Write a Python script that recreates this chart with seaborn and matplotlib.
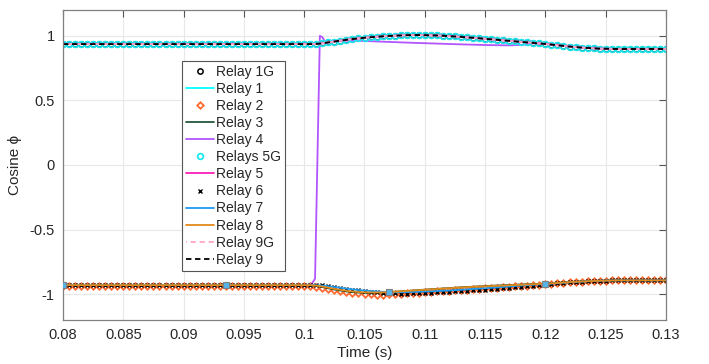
import numpy as np
import pandas as pd
import matplotlib
matplotlib.use("Agg")
import matplotlib.pyplot as plt
import seaborn as sns
from matplotlib.ticker import FuncFormatter

# ---------------- data ----------------
time = np.linspace(0.08, 0.13, 101)

upper_cos = [
    0.936, 0.936, 0.936, 0.936, 0.936, 0.936, 0.936, 0.936, 0.936, 0.936,
    0.936, 0.936, 0.936, 0.936, 0.936, 0.936, 0.936, 0.936, 0.936, 0.936,
    0.936, 0.936, 0.936, 0.936, 0.936, 0.936, 0.936, 0.936, 0.936, 0.936,
    0.936, 0.936, 0.936, 0.936, 0.936, 0.936, 0.936, 0.936, 0.936, 0.936,
    0.936, 0.936, 0.937, 0.942, 0.949, 0.956, 0.963, 0.969, 0.975, 0.980,
    0.985, 0.989, 0.993, 0.996, 0.999, 1.001, 1.003, 1.005, 1.006, 1.006,
    1.005, 1.004, 1.003, 1.001, 0.998, 0.995, 0.992, 0.988, 0.985, 0.981,
    0.977, 0.973, 0.969, 0.965, 0.961, 0.957, 0.953, 0.949, 0.945, 0.941,
    0.937, 0.932, 0.927, 0.922, 0.917, 0.913, 0.909, 0.906, 0.903, 0.901,
    0.900, 0.899, 0.898, 0.898, 0.898, 0.898, 0.898, 0.898, 0.898, 0.898,
    0.898,
]

relay2_cos = [
    -0.940, -0.940, -0.940, -0.940, -0.940, -0.940, -0.940, -0.940, -0.940, -0.940,
    -0.940, -0.940, -0.940, -0.940, -0.940, -0.940, -0.940, -0.940, -0.940, -0.940,
    -0.940, -0.940, -0.940, -0.940, -0.940, -0.940, -0.940, -0.940, -0.940, -0.940,
    -0.940, -0.940, -0.940, -0.940, -0.940, -0.940, -0.940, -0.940, -0.940, -0.940,
    -0.940, -0.940, -0.943, -0.950, -0.958, -0.967, -0.975, -0.983, -0.989, -0.994,
    -0.998, -1.001, -1.003, -1.003, -1.002, -1.000, -0.997, -0.994, -0.991, -0.988,
    -0.985, -0.982, -0.979, -0.976, -0.973, -0.970, -0.967, -0.964, -0.961, -0.958,
    -0.955, -0.952, -0.949, -0.946, -0.943, -0.940, -0.937, -0.934, -0.931, -0.928,
    -0.925, -0.921, -0.917, -0.913, -0.909, -0.906, -0.903, -0.900, -0.898, -0.896,
    -0.895, -0.894, -0.893, -0.893, -0.893, -0.893, -0.893, -0.893, -0.893, -0.893,
    -0.893,
]

relay3_cos = [
    -0.930, -0.930, -0.930, -0.930, -0.930, -0.930, -0.930, -0.930, -0.930, -0.930,
    -0.930, -0.930, -0.930, -0.930, -0.930, -0.930, -0.930, -0.930, -0.930, -0.930,
    -0.930, -0.930, -0.930, -0.930, -0.930, -0.930, -0.930, -0.930, -0.930, -0.930,
    -0.930, -0.930, -0.930, -0.930, -0.930, -0.930, -0.930, -0.930, -0.930, -0.930,
    -0.930, -0.930, -0.936, -0.945, -0.955, -0.964, -0.972, -0.979, -0.984, -0.988,
    -0.990, -0.990, -0.989, -0.987, -0.984, -0.981, -0.978, -0.975, -0.972, -0.968,
    -0.965, -0.962, -0.959, -0.956, -0.953, -0.950, -0.947, -0.945, -0.942, -0.940,
    -0.937, -0.935, -0.933, -0.931, -0.929, -0.927, -0.925, -0.923, -0.922, -0.920,
    -0.918, -0.916, -0.913, -0.910, -0.907, -0.904, -0.902, -0.900, -0.898, -0.896,
    -0.895, -0.894, -0.893, -0.893, -0.893, -0.893, -0.893, -0.893, -0.893, -0.893,
    -0.893,
]

relay6_cos = [
    -0.930, -0.930, -0.930, -0.930, -0.930, -0.930, -0.930, -0.930, -0.930, -0.930,
    -0.930, -0.930, -0.930, -0.930, -0.930, -0.930, -0.930, -0.930, -0.930, -0.930,
    -0.930, -0.930, -0.930, -0.930, -0.930, -0.930, -0.930, -0.930, -0.930, -0.930,
    -0.930, -0.930, -0.930, -0.930, -0.930, -0.930, -0.930, -0.930, -0.930, -0.930,
    -0.930, -0.930, -0.930, -0.932, -0.937, -0.944, -0.951, -0.958, -0.965, -0.971,
    -0.977, -0.982, -0.986, -0.990, -0.992, -0.994, -0.995, -0.995, -0.994, -0.993,
    -0.991, -0.989, -0.987, -0.985, -0.982, -0.979, -0.976, -0.973, -0.970, -0.967,
    -0.964, -0.961, -0.957, -0.953, -0.949, -0.945, -0.941, -0.937, -0.933, -0.929,
    -0.925, -0.921, -0.917, -0.913, -0.909, -0.906, -0.903, -0.900, -0.898, -0.896,
    -0.895, -0.894, -0.893, -0.893, -0.893, -0.893, -0.893, -0.893, -0.893, -0.893,
    -0.893,
]

relay7_cos = [
    -0.930, -0.930, -0.930, -0.930, -0.930, -0.930, -0.930, -0.930, -0.930, -0.930,
    -0.930, -0.930, -0.930, -0.930, -0.930, -0.930, -0.930, -0.930, -0.930, -0.930,
    -0.930, -0.930, -0.930, -0.930, -0.930, -0.930, -0.930, -0.930, -0.930, -0.930,
    -0.930, -0.930, -0.930, -0.930, -0.930, -0.930, -0.930, -0.930, -0.930, -0.930,
    -0.930, -0.930, -0.931, -0.934, -0.939, -0.945, -0.951, -0.957, -0.963, -0.968,
    -0.972, -0.976, -0.979, -0.982, -0.984, -0.985, -0.985, -0.984, -0.983, -0.982,
    -0.980, -0.978, -0.976, -0.974, -0.972, -0.969, -0.966, -0.963, -0.960, -0.957,
    -0.954, -0.951, -0.948, -0.944, -0.941, -0.937, -0.933, -0.930, -0.927, -0.924,
    -0.921, -0.918, -0.915, -0.912, -0.908, -0.905, -0.903, -0.900, -0.898, -0.896,
    -0.895, -0.894, -0.893, -0.893, -0.893, -0.893, -0.893, -0.893, -0.893, -0.893,
    -0.893,
]

relay8_cos = [
    -0.930, -0.930, -0.930, -0.930, -0.930, -0.930, -0.930, -0.930, -0.930, -0.930,
    -0.930, -0.930, -0.930, -0.930, -0.930, -0.930, -0.930, -0.930, -0.930, -0.930,
    -0.930, -0.930, -0.930, -0.930, -0.930, -0.930, -0.930, -0.930, -0.930, -0.930,
    -0.930, -0.930, -0.930, -0.930, -0.930, -0.930, -0.930, -0.930, -0.930, -0.930,
    -0.930, -0.930, -0.934, -0.941, -0.950, -0.959, -0.967, -0.974, -0.979, -0.983,
    -0.986, -0.987, -0.987, -0.986, -0.984, -0.981, -0.978, -0.975, -0.972, -0.969,
    -0.966, -0.963, -0.960, -0.957, -0.954, -0.951, -0.948, -0.946, -0.943, -0.941,
    -0.939, -0.937, -0.935, -0.933, -0.931, -0.929, -0.927, -0.925, -0.923, -0.921,
    -0.919, -0.916, -0.913, -0.910, -0.907, -0.904, -0.902, -0.900, -0.898, -0.896,
    -0.895, -0.894, -0.893, -0.893, -0.893, -0.893, -0.893, -0.893, -0.893, -0.893,
    -0.893,
]

relay4_time = [0.0800, 0.0900, 0.1000, 0.1006, 0.1009, 0.1013, 0.1015, 0.1018,
               0.1022, 0.1030, 0.1040, 0.1050, 0.1070, 0.1090, 0.1110, 0.1130,
               0.1150, 0.1170, 0.1180, 0.1190, 0.1200, 0.1250, 0.1300]
relay4_cos = [-0.930, -0.930, -0.930, -0.925, -0.880, 1.000, 0.990, 0.945,
              0.955, 0.962, 0.963, 0.960, 0.953, 0.946, 0.940, 0.934,
              0.929, 0.926, 0.930, 0.942, 0.937, 0.900, 0.898]

relay7_square_idx = [0, 27, 54, 80]

series_labels = ["Relay 1G", "Relay 1", "Relay 2", "Relay 3", "Relay 4", "Relays 5G",
                 "Relay 5", "Relay 6", "Relay 7", "Relay 8", "Relay 9G", "Relay 9"]

x_ticks = [0.08, 0.085, 0.09, 0.095, 0.1, 0.105, 0.11, 0.115, 0.12, 0.125, 0.13]
y_ticks = [-1, -0.5, 0, 0.5, 1]

# ---------------- style ----------------
sns.set_theme(style="white")
plt.rcParams["font.family"] = ["Liberation Sans", "DejaVu Sans"]
plt.rcParams["text.color"] = "#262626"
plt.rcParams["axes.labelcolor"] = "#262626"
plt.rcParams["xtick.color"] = "#262626"
plt.rcParams["ytick.color"] = "#262626"

fig = plt.figure(figsize=(7.09, 3.64), dpi=100)
ax = fig.add_axes([63 / 709, 1 - 320 / 364, (666 - 63) / 709, (320 - 10) / 364])

def draw(y, label, x=time, **kw):
    sns.lineplot(x=x, y=y, ax=ax, label=label, legend=False, sort=False,
                 estimator=None, **kw)

draw(upper_cos, "Relay 1G", color="black", marker="o", linestyle="",
     markerfacecolor="none", markeredgecolor="black", markersize=3.8, markeredgewidth=1.1)
draw(upper_cos, "Relay 1", color="#00ffff", linewidth=1.3)
draw(relay2_cos, "Relay 2", color="#ff6a30", marker="D", linestyle="",
     markerfacecolor="none", markeredgecolor="#ff6a30", markersize=3.3, markeredgewidth=1.3)
draw(relay3_cos, "Relay 3", color="#24583f", linewidth=1.3)
draw(relay4_cos, "Relay 4", x=relay4_time, color="#b255ff", linewidth=1.3)
draw(upper_cos, "Relays 5G", color="#1ee8f0", marker="o", linestyle="",
     markerfacecolor="none", markeredgecolor="#1ee8f0", markersize=4.1, markeredgewidth=1.3)
draw(upper_cos, "Relay 5", color="#ff20b8", linewidth=1.3)
draw(relay6_cos, "Relay 6", color="black", marker="x", linestyle="",
     markeredgecolor="black", markersize=2.3, markeredgewidth=1.0)
draw(relay7_cos, "Relay 7", color="#1f9cf0", linewidth=1.3)
draw(relay8_cos, "Relay 8", color="#e08a1c", linewidth=1.3)
draw(upper_cos, "Relay 9G", color="#ffa6c9", linewidth=1.3, linestyle=(2.5, (3, 2)))
draw(upper_cos, "Relay 9", color="black", linewidth=1.3, linestyle=(0, (3, 2)))

# square markers on Relay 7 (not in legend)
ax.plot(time[relay7_square_idx], np.array(relay7_cos)[relay7_square_idx], linestyle="",
        marker="s", markersize=3.8, markerfacecolor="#56b4e9", markeredgecolor="#7f7f7f",
        markeredgewidth=0.8, zorder=5)

ax.set_xlim(0.08, 0.13)
ax.set_ylim(-1.2, 1.2)
ax.set_xticks(x_ticks)
ax.set_yticks(y_ticks)
ax.xaxis.set_major_formatter(FuncFormatter(lambda v, p: "%g" % round(v, 4)))
ax.yaxis.set_major_formatter(FuncFormatter(lambda v, p: "%g" % v))
ax.tick_params(axis="both", direction="in", length=5, width=0.8, labelsize=10.5,
               top=True, right=True, color="#555555", pad=6)
ax.grid(True, color="#e8e8e8", linewidth=0.8)
ax.set_axisbelow(True)
for s in ax.spines.values():
    s.set_color("#808080")
    s.set_linewidth(0.9)

ax.set_xlabel("Time (s)", fontsize=11, labelpad=3)
ax.set_ylabel("Cosine ϕ", fontsize=11, labelpad=5)

handles, labels = ax.get_legend_handles_labels()
order = [labels.index(l) for l in series_labels]
leg = ax.legend([handles[i] for i in order], [labels[i] for i in order],
                loc="upper left", bbox_to_anchor=(0.197, 0.836), fontsize=10,
                frameon=True, fancybox=False, edgecolor="#555555", framealpha=1,
                handlelength=2.0, handletextpad=0.15, labelspacing=0.22,
                borderpad=0.3, borderaxespad=0.0)
leg.get_frame().set_linewidth(0.8)

fig.savefig("out.png", dpi=100)
